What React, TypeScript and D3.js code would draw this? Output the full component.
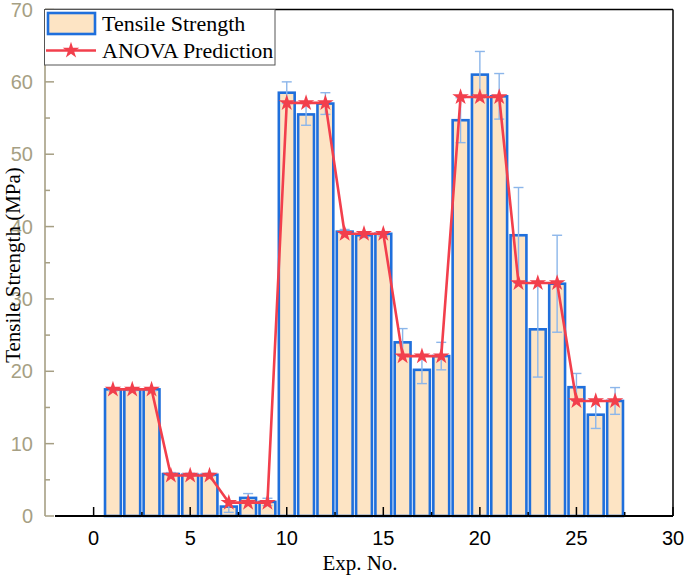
import React from "react";
import * as d3 from "d3";

const expNo = d3.range(1, 28);
const tensile = [17.5, 17.5, 17.5, 5.8, 5.7, 5.7, 1.3, 2.5, 1.95, 58.5, 55.5, 57.0, 39.3, 38.8, 39.0, 24.0, 20.2, 22.1, 54.7, 61.0, 58.0, 38.8, 25.8, 32.1, 17.8, 14.0, 15.9];
const errors = [0.2, 0.2, 0.2, 0.2, 0.2, 0.2, 0.8, 0.6, 0.5, 1.5, 1.5, 1.5, 0.3, 0.3, 0.3, 1.9, 1.9, 1.9, 3.1, 3.2, 3.15, 6.6, 6.6, 6.7, 1.9, 1.9, 1.85];
const anova = [17.5, 17.5, 17.5, 5.6, 5.6, 5.6, 1.85, 1.85, 1.85, 57.1, 57.1, 57.1, 39.0, 39.0, 39.0, 22.1, 22.1, 22.1, 57.9, 57.9, 57.9, 32.2, 32.2, 32.2, 15.9, 15.9, 15.9];
const xTicks = [0, 5, 10, 15, 20, 25, 30];
const xMinor = [2.5, 7.5, 12.5, 17.5, 22.5, 27.5];
const yTicks = [0, 10, 20, 30, 40, 50, 60, 70];
const yMinor = [5, 15, 25, 35, 45, 55, 65];

const W = 685, H = 576;
const X0 = 55, X1 = 673, LEFT = 45;
const Y0 = 516, Y1 = 9.5;
const TAN = "#a69f84";
const BLUE = "#1f6fdc";
const FILL = "#fde4c4";
const RED = "#f23f4c";
const ERR = "#8cb6ea";

export default function App() {
  const x = d3.scaleLinear().domain([-2, 30]).range([X0, X1]);
  const y = d3.scaleLinear().domain([0, 70]).range([Y0, Y1]);
  const bw = 0.82 * (x(1) - x(0));
  const line = d3.line<number>().x((_, i) => x(expNo[i])).y((d) => y(d));
  const star = d3.symbol().type(d3.symbolStar).size(85)() as string;
  const cap = 5;

  return (
    <svg width={W} height={H} style={{ position: "absolute", left: 0, top: 0, background: "#fff" }}>
      {tensile.map((v, i) => (
        <rect key={"b" + i} x={x(expNo[i]) - bw / 2} y={y(v)} width={bw} height={y(0) - y(v)}
          fill={FILL} stroke={BLUE} strokeWidth={2.6} />
      ))}
      {tensile.map((v, i) => {
        const cx = x(expNo[i]);
        const t = y(v + errors[i]);
        const b = y(v - errors[i]);
        return (
          <g key={"e" + i} stroke={ERR} strokeWidth={1.4} fill="none">
            <line x1={cx} x2={cx} y1={t} y2={b} />
            <line x1={cx - cap} x2={cx + cap} y1={t} y2={t} />
            <line x1={cx - cap} x2={cx + cap} y1={b} y2={b} />
          </g>
        );
      })}
      <path d={line(anova) || ""} fill="none" stroke={RED} strokeWidth={2.6} strokeLinejoin="round" />
      {anova.map((v, i) => (
        <path key={"s" + i} d={star} transform={`translate(${x(expNo[i])},${y(v)})`} fill={RED} />
      ))}
      <line x1={LEFT} x2={X1} y1={Y1} y2={Y1} stroke="#000" strokeWidth={1.5} />
      <line x1={X1} x2={X1} y1={Y1} y2={Y0} stroke="#000" strokeWidth={1.5} />
      <line x1={X0} x2={X1} y1={Y0} y2={Y0} stroke="#000" strokeWidth={2} />
      <line x1={LEFT} x2={LEFT} y1={Y1} y2={Y0} stroke={TAN} strokeWidth={1.6} />
      {xTicks.map((t) => (
        <g key={"xt" + t}>
          <line x1={x(t)} x2={x(t)} y1={Y0} y2={Y0 - 9} stroke="#000" strokeWidth={1.5} />
          <text x={x(t)} y={545} textAnchor="middle" fontFamily="Liberation Sans, Arial, sans-serif" fontSize={20} fill="#000">{t}</text>
        </g>
      ))}
      {xMinor.map((t) => (
        <line key={"xm" + t} x1={x(t)} x2={x(t)} y1={Y0} y2={Y0 - 4} stroke="#000" strokeWidth={1.5} />
      ))}
      {yTicks.map((t) => (
        <g key={"yt" + t}>
          <line x1={LEFT} x2={LEFT + 9} y1={y(t)} y2={y(t)} stroke={TAN} strokeWidth={1.5} />
          <text x={33} y={y(t) + 7} textAnchor="end" fontFamily="Liberation Sans, Arial, sans-serif" fontSize={20} fill={TAN}>{t}</text>
        </g>
      ))}
      {yMinor.map((t) => (
        <line key={"ym" + t} x1={LEFT} x2={LEFT + 5} y1={y(t)} y2={y(t)} stroke={TAN} strokeWidth={1.5} />
      ))}
      <text x={360} y={570} textAnchor="middle" fontFamily="Liberation Serif, Times New Roman, serif" fontSize={21} fill="#000">Exp. No.</text>
      <text transform="translate(20,265) rotate(-90)" textAnchor="middle" fontFamily="Liberation Serif, Times New Roman, serif" fontSize={21} fill="#000">Tensile Strength (MPa)</text>
      <rect x={44.5} y={9.5} width={230.5} height={55.5} fill="#fff" stroke="#555" strokeWidth={1} />
      <rect x={48} y={13} width={47} height={21} fill={FILL} stroke={BLUE} strokeWidth={2.6} />
      <text x={102} y={31} fontFamily="Liberation Serif, Times New Roman, serif" fontSize={22} fill="#000">Tensile Strength</text>
      <line x1={46} x2={96} y1={50.5} y2={50.5} stroke={RED} strokeWidth={2.6} />
      <path d={star} transform="translate(71,50.5)" fill={RED} />
      <text x={102} y={57.5} fontFamily="Liberation Serif, Times New Roman, serif" fontSize={22} fill="#000">ANOVA Prediction</text>
    </svg>
  );
}
